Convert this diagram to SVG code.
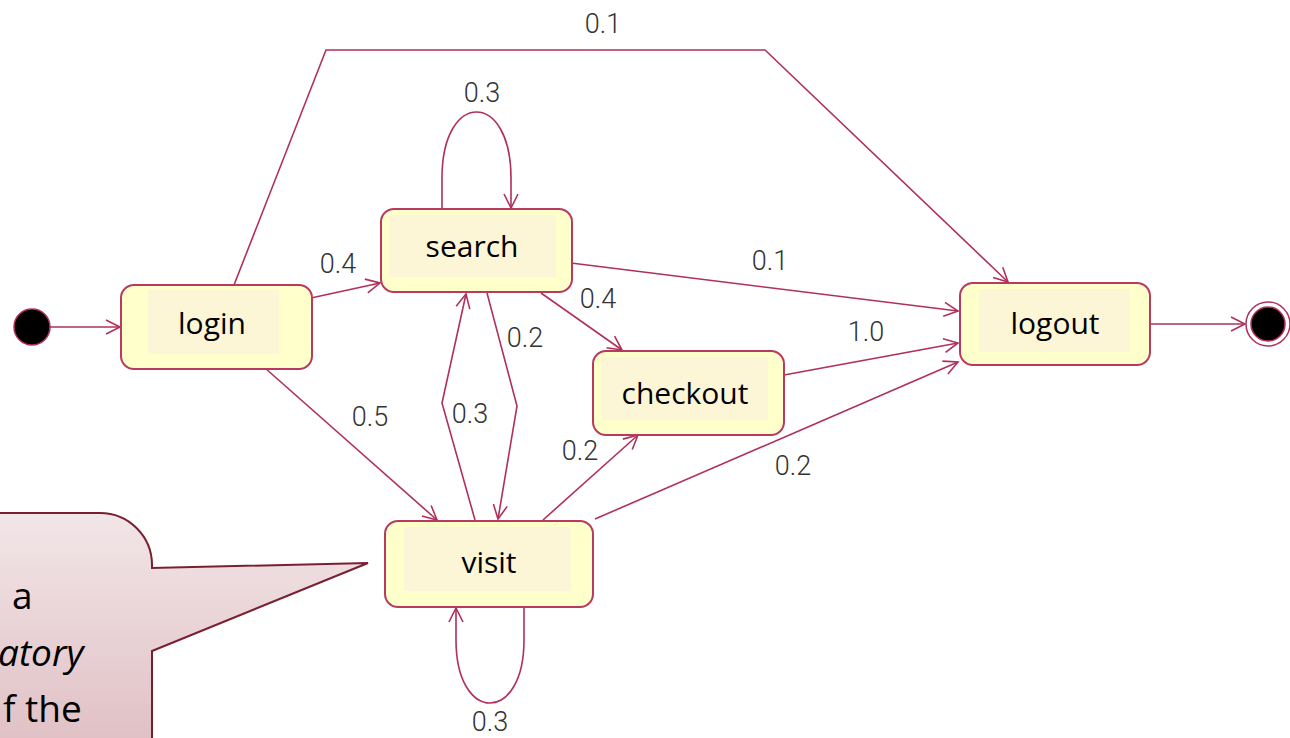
<svg xmlns="http://www.w3.org/2000/svg" width="1290" height="738" viewBox="0 0 1290 738">
<style>
.node{fill:#ffffcc;stroke:#b83a5e;stroke-width:2}
.inner{fill:#fdf6d6}
.lbl{font-family:"Open Sans","Liberation Sans",sans-serif;font-size:30px;fill:#000;text-anchor:middle;dominant-baseline:central}
.el{font-family:Roboto,"Liberation Sans",sans-serif;font-weight:300;font-size:27px;fill:#333;text-anchor:middle;dominant-baseline:central}
.c{fill:none;stroke:#b0305a;stroke-width:1.6;marker-end:url(#arr)}
.call{font-family:"Open Sans","Liberation Sans",sans-serif;font-size:37px;fill:#000}
</style>
<defs>
<marker id="arr" viewBox="-16 -10 20 20" markerWidth="20" markerHeight="20" refX="0" refY="0" orient="auto" markerUnits="userSpaceOnUse">
<path d="M-14,-7 L0,0 L-14,7" fill="none" stroke="#b0305a" stroke-width="1.6"/>
</marker>
<linearGradient id="cg" x1="0" y1="0" x2="0" y2="1">
<stop offset="0" stop-color="#f2e6e8"/>
<stop offset="1" stop-color="#e0c0c5"/>
</linearGradient>
</defs>
<rect width="1290" height="738" fill="#fff"/>

<g id="callout">
<path d="M-5,513 L100,513 A52,52 0 0 1 152,565 L152,568 L368,563 L152,651 L152,745 L-5,745 Z" fill="url(#cg)" stroke="#7a1f30" stroke-width="2"/>
<text class="call" x="12" y="609">a</text>
<text class="call" x="-2" y="666" font-style="italic">atory</text>
<text class="call" x="3" y="722">f the</text>
</g>

<g id="connectors">
<line class="c" x1="50" y1="327" x2="120" y2="327"/>
<polyline class="c" points="234,285 326,50 765,50 1008,282"/>
<path class="c" d="M442,209 L442,178 C442,90 511,90 511,178 L511,208"/>
<line class="c" x1="311" y1="298" x2="380" y2="283"/>
<line class="c" x1="571" y1="263" x2="958" y2="311"/>
<line class="c" x1="541" y1="293" x2="622" y2="350"/>
<polyline class="c" points="487,293 517,406 498,519"/>
<polyline class="c" points="475,520 442,403 466,294"/>
<line class="c" x1="265" y1="368" x2="437" y2="520"/>
<line class="c" x1="543" y1="520" x2="638" y2="435"/>
<line class="c" x1="595" y1="519" x2="958" y2="362"/>
<line class="c" x1="784" y1="375" x2="958" y2="343"/>
<path class="c" d="M524,607 L524,640 C524,724 456,724 456,640 L456,608"/>
<line class="c" x1="1150" y1="324" x2="1245" y2="324"/>
</g>

<g id="edge-labels">
<text class="el" x="603" y="24">0.1</text>
<text class="el" x="482" y="93">0.3</text>
<text class="el" x="338" y="264">0.4</text>
<text class="el" x="770" y="261">0.1</text>
<text class="el" x="598" y="299">0.4</text>
<text class="el" x="525" y="338">0.2</text>
<text class="el" x="866" y="332">1.0</text>
<text class="el" x="370" y="417">0.5</text>
<text class="el" x="470" y="414">0.3</text>
<text class="el" x="580" y="451">0.2</text>
<text class="el" x="793" y="466">0.2</text>
<text class="el" x="490" y="722">0.3</text>
</g>

<g id="initial">
<circle cx="32" cy="327" r="18" fill="#000" stroke="#b0305a" stroke-width="1.5"/>
</g>
<g id="final">
<circle cx="1268" cy="324" r="22" fill="#fff" stroke="#b0305a" stroke-width="1.5"/>
<circle cx="1268" cy="324" r="17" fill="#000" stroke="#b0305a" stroke-width="1.5"/>
</g>

<g id="login">
<rect class="node" x="121" y="285" width="191" height="84" rx="13"/>
<rect class="inner" x="148" y="290" width="131" height="64"/>
<text class="lbl" x="212" y="322">login</text>
</g>
<g id="search">
<rect class="node" x="381" y="209" width="191" height="83" rx="13"/>
<rect class="inner" x="389" y="215" width="167" height="62"/>
<text class="lbl" x="472" y="245">search</text>
</g>
<g id="checkout">
<rect class="node" x="593" y="351" width="191" height="84" rx="13"/>
<rect class="inner" x="601" y="357" width="167" height="63"/>
<text class="lbl" x="685" y="392">checkout</text>
</g>
<g id="logout">
<rect class="node" x="960" y="283" width="190" height="82" rx="13"/>
<rect class="inner" x="979" y="289" width="151" height="63"/>
<text class="lbl" x="1055" y="322">logout</text>
</g>
<g id="visit">
<rect class="node" x="385" y="521" width="208" height="86" rx="13"/>
<rect class="inner" x="404" y="527" width="167" height="64"/>
<text class="lbl" x="489" y="561">visit</text>
</g>
</svg>
